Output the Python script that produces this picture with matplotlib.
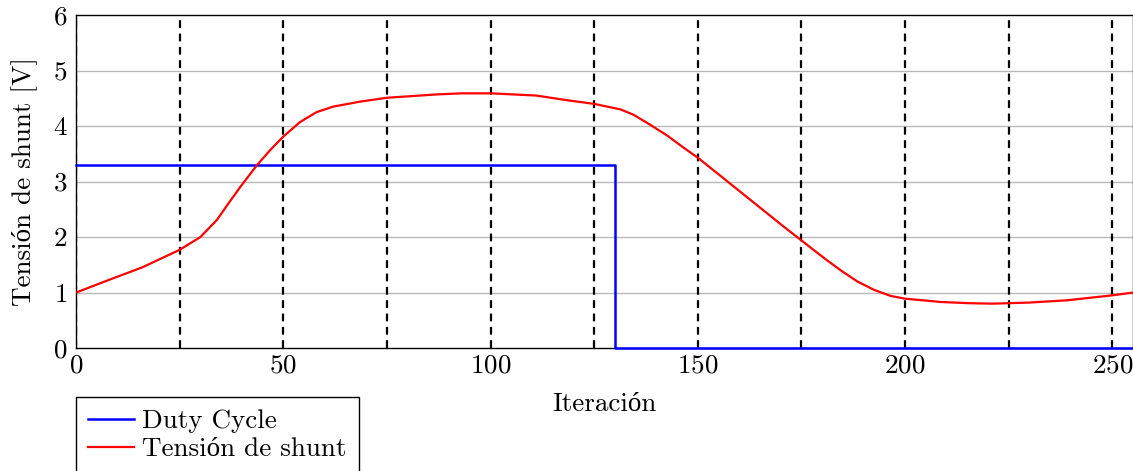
import matplotlib
matplotlib.use('Agg')
import numpy as np
import matplotlib.pyplot as plt

plt.rcParams['font.family'] = ['cmr10', 'Liberation Serif']
plt.rcParams['mathtext.fontset'] = 'cm'
plt.rcParams['axes.formatter.use_mathtext'] = True

# data
it_duty = [0, 130, 130, 255]
duty = [3.3, 3.3, 0, 0]

it_shunt = [0, 8, 16, 25, 30, 34, 37, 40, 43.7, 47, 50, 54, 58, 62, 68.5, 75, 87,
            93, 100, 111, 119, 125, 131.4, 134.6, 138.6, 142.6, 146.6, 150,
            154.7, 158.7, 162.7, 166.7, 170.7, 175, 180.5, 184.5, 188.5, 192.5,
            196.5, 200, 208.7, 215, 221, 230, 239, 250, 255]
shunt = [1.00, 1.23, 1.455, 1.77, 2.00, 2.31, 2.63, 2.94, 3.30, 3.58, 3.81, 4.07,
         4.25, 4.35, 4.44, 4.51, 4.57, 4.59, 4.59, 4.55, 4.46, 4.40, 4.30, 4.20,
         4.02, 3.83, 3.61, 3.43, 3.15, 2.91, 2.67, 2.43, 2.19, 1.94, 1.62, 1.40,
         1.20, 1.05, 0.94, 0.89, 0.83, 0.81, 0.80, 0.82, 0.86, 0.95, 1.00]

fs = 19.5

fig = plt.figure(figsize=(11.33, 4.71), dpi=100)
ax = fig.add_axes([0.0671, 0.261, 0.9329, 0.707])

for y in range(1, 6):
    ax.axhline(y, color='#b8b8b8', lw=1.0, zorder=1)
for x in range(0, 256, 25):
    ax.axvline(x, color='black', lw=1.6, ls=(0, (3.5, 2.5)), zorder=2)

ax.plot(it_duty, duty, color='blue', lw=1.8, zorder=5, clip_on=False,
        label='Duty Cycle')
ax.plot(it_shunt, shunt, color='red', lw=1.6, zorder=5, label='Tensión de shunt')

ax.set_xlim(0, 255)
ax.set_ylim(0, 6)
ax.set_xticks(range(0, 251, 50))
ax.set_yticks(range(0, 7))
ax.tick_params(length=0, labelsize=fs)
ax.tick_params(axis='x', pad=4)
ax.tick_params(axis='y', pad=6)
for s in ax.spines.values():
    s.set_linewidth(1.0)
    s.set_zorder(3)

ax.set_xlabel('Iteración', fontsize=fs, labelpad=11)
ax.set_ylabel('Tensión de shunt [V]', fontsize=fs, labelpad=11)

leg = ax.legend(loc='upper left', bbox_to_anchor=(0.067, 0.157),
                bbox_transform=fig.transFigure, fontsize=fs, fancybox=False,
                edgecolor='black', framealpha=1, borderaxespad=0,
                handlelength=1.7, handletextpad=0.3, borderpad=0.45,
                labelspacing=0.15)
leg.get_frame().set_linewidth(1.0)

plt.savefig('out.png', dpi=100)
